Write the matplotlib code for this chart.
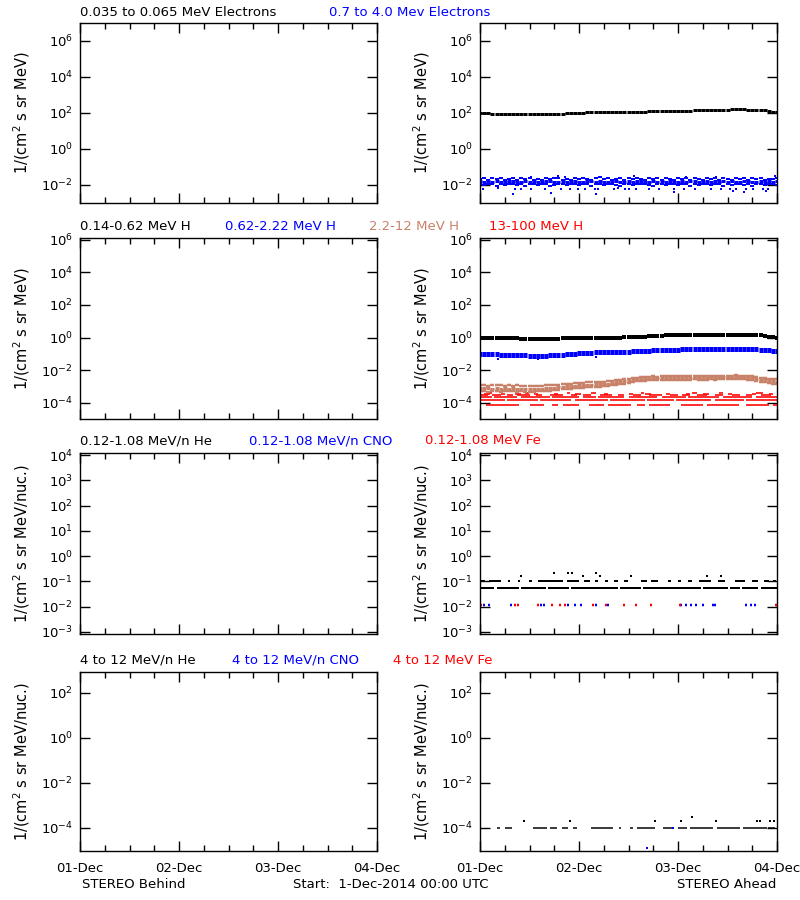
#!/usr/bin/env python3
"""STEREO HET/LET/SEPT overview: Behind (empty) vs Ahead, 1-4 Dec 2014."""

import numpy as np
import matplotlib
matplotlib.use("Agg")
import matplotlib.pyplot as plt
from matplotlib.ticker import NullLocator, MultipleLocator, NullFormatter

BLUE = "#0000ff"
RED = "#ff0000"
BROWN = "#c8826a"

day_ticks = [0, 24, 48, 72]
day_labels = ["01-Dec", "02-Dec", "03-Dec", "04-Dec"]

# ---- row 1: electrons (Ahead), hourly values from 00 UTC 1-Dec ----
e_hi_black = [
    98, 97, 95, 93, 90, 88, 87, 86, 86, 85, 84, 85,
    84, 83, 84, 85, 84, 83, 85, 86, 88, 95, 100, 103,
    105, 106, 107, 108, 108, 110, 109, 111, 112, 113, 114, 115,
    117, 118, 119, 120, 121, 122, 124, 125, 126, 128, 129, 131,
    133, 134, 136, 137, 139, 141, 143, 146, 148, 150, 152, 154,
    155, 157, 158, 158, 157, 155, 153, 150, 147, 140, 130, 120,
    112]
e_lo_up = [
    0.022, 0.025, 0.020, 0.023, 0.021, 0.026, 0.019, 0.022, 0.024, 0.020, 0.023, 0.021,
    0.025, 0.020, 0.022, 0.019, 0.024, 0.021, 0.023, 0.026, 0.020, 0.022, 0.019, 0.024,
    0.021, 0.025, 0.022, 0.020, 0.023, 0.027, 0.021, 0.024, 0.020, 0.022, 0.025, 0.019,
    0.023, 0.021, 0.026, 0.022, 0.020, 0.024, 0.021, 0.023, 0.019, 0.025, 0.022, 0.020,
    0.024, 0.021, 0.023, 0.020, 0.026, 0.022, 0.019, 0.024, 0.021, 0.025, 0.020, 0.023,
    0.022, 0.019, 0.024, 0.021, 0.026, 0.020, 0.023, 0.022, 0.025, 0.019, 0.022, 0.021,
    0.024]
e_lo_mid = [
    0.016, 0.015, 0.017, 0.014, 0.016, 0.015, 0.014, 0.016, 0.017, 0.015, 0.014, 0.016,
    0.015, 0.016, 0.014, 0.015, 0.017, 0.016, 0.015, 0.014, 0.016, 0.015, 0.017, 0.016,
    0.015, 0.014, 0.016, 0.017, 0.015, 0.016, 0.014, 0.015, 0.016, 0.017, 0.015, 0.014,
    0.016, 0.015, 0.017, 0.016, 0.014, 0.015, 0.016, 0.015, 0.017, 0.014, 0.016, 0.015,
    0.014, 0.016, 0.015, 0.017, 0.016, 0.015, 0.014, 0.016, 0.015, 0.017, 0.014, 0.016,
    0.015, 0.016, 0.014, 0.015, 0.017, 0.016, 0.015, 0.014, 0.016, 0.015, 0.016, 0.014,
    0.016]
e_lo_dn = [
    0.011, 0.010, 0.012, 0.011, 0.009, 0.012, 0.010, 0.011, 0.012, 0.010, 0.011, 0.009,
    0.012, 0.011, 0.010, 0.012, 0.011, 0.009, 0.010, 0.012, 0.011, 0.010, 0.012, 0.011,
    0.010, 0.012, 0.011, 0.009, 0.011, 0.012, 0.010, 0.011, 0.012, 0.010, 0.009, 0.011,
    0.012, 0.010, 0.011, 0.012, 0.011, 0.010, 0.009, 0.012, 0.011, 0.010, 0.012, 0.011,
    0.010, 0.011, 0.012, 0.009, 0.011, 0.010, 0.012, 0.011, 0.010, 0.012, 0.011, 0.009,
    0.012, 0.010, 0.011, 0.012, 0.010, 0.011, 0.009, 0.012, 0.011, 0.010, 0.012, 0.011,
    0.010]
e_lo_out_hr = [0.7, 4.4, 8.4, 10, 12.4, 15.7, 19.7, 21.7, 23.8, 25.4, 27.8, 28.6, 32.6, 33.5, 35.1,
               8, 17.3, 28.2, 12.4, 18.9, 20.5,
               36.2, 37.8, 41, 43.5, 47.1, 49.5, 52, 56, 58.4, 60.5, 62, 64.5, 66.1, 68.5, 69.8,
               47.1, 61.3, 64.1, 69.3, 37.4, 50, 57.2, 71.4]
e_lo_out_val = [0.006, 0.0065, 0.0058, 0.006, 0.0062, 0.0057, 0.006, 0.0063, 0.0059, 0.006,
                0.0061, 0.0058, 0.006, 0.0064, 0.0059,
                0.0032, 0.0034, 0.0033, 0.029, 0.030, 0.028,
                0.006, 0.0062, 0.0058, 0.006, 0.0061, 0.0059, 0.0063, 0.006, 0.0058, 0.0062,
                0.006, 0.0057, 0.0061, 0.006, 0.0059,
                0.004, 0.0045, 0.0042, 0.0044, 0.030, 0.029, 0.028, 0.031]

# ---- row 2: protons (Ahead), hourly ----
h_black = [
    1.00, 0.99, 0.97, 0.96, 0.94, 0.93, 0.92, 0.90, 0.89, 0.88, 0.87, 0.86,
    0.85, 0.84, 0.84, 0.83, 0.84, 0.85, 0.86, 0.87, 0.88, 0.89, 0.90, 0.92,
    0.93, 0.94, 0.95, 0.96, 0.97, 0.97, 0.98, 0.99, 1.00, 1.00, 1.01, 1.02,
    1.04, 1.06, 1.08, 1.10, 1.14, 1.20, 1.26, 1.31, 1.34, 1.36, 1.37, 1.38,
    1.39, 1.40, 1.40, 1.41, 1.42, 1.42, 1.43, 1.43, 1.44, 1.45, 1.45, 1.46,
    1.46, 1.47, 1.47, 1.48, 1.48, 1.47, 1.45, 1.42, 1.36, 1.25, 1.12, 1.04,
    1.00]
h_blue = [
    0.100, 0.098, 0.096, 0.094, 0.092, 0.090, 0.088, 0.086, 0.084, 0.082, 0.081, 0.080,
    0.079, 0.078, 0.077, 0.078, 0.079, 0.080, 0.082, 0.085, 0.090, 0.095, 0.100, 0.105,
    0.110, 0.114, 0.118, 0.121, 0.124, 0.126, 0.128, 0.130, 0.132, 0.133, 0.135, 0.137,
    0.139, 0.141, 0.143, 0.146, 0.150, 0.156, 0.162, 0.168, 0.173, 0.177, 0.180, 0.183,
    0.185, 0.187, 0.189, 0.191, 0.193, 0.195, 0.197, 0.199, 0.201, 0.203, 0.205, 0.207,
    0.209, 0.211, 0.212, 0.213, 0.212, 0.210, 0.205, 0.195, 0.180, 0.170, 0.162, 0.157,
    0.153]
h_blue_out_hr = [4.4, 14.0, 28.0]
h_blue_out_val = [0.051, 0.050, 0.065]
h_brown_up = [
    1.2e-3, 1.3e-3, 1.1e-3, 1.25e-3, 1.15e-3, 1.3e-3, 1.1e-3, 1.2e-3, 1.05e-3, 1.15e-3, 1.1e-3, 1.0e-3,
    1.05e-3, 1.1e-3, 1.0e-3, 1.1e-3, 1.15e-3, 1.2e-3, 1.25e-3, 1.3e-3, 1.4e-3, 1.45e-3, 1.5e-3, 1.6e-3,
    1.65e-3, 1.7e-3, 1.75e-3, 1.8e-3, 1.9e-3, 1.95e-3, 2.0e-3, 2.1e-3, 2.2e-3, 2.4e-3, 2.6e-3, 2.8e-3,
    3.0e-3, 3.2e-3, 3.5e-3, 3.7e-3, 3.9e-3, 4.0e-3, 4.1e-3, 4.0e-3, 4.2e-3, 4.1e-3, 4.2e-3, 4.3e-3,
    4.1e-3, 4.3e-3, 4.2e-3, 4.4e-3, 4.3e-3, 4.2e-3, 4.4e-3, 4.3e-3, 4.5e-3, 4.3e-3, 4.4e-3, 4.6e-3,
    4.4e-3, 4.6e-3, 4.7e-3, 4.5e-3, 4.4e-3, 4.3e-3, 4.1e-3, 3.9e-3, 3.5e-3, 3.2e-3, 2.9e-3, 2.8e-3,
    2.7e-3]
h_brown_mid = [
    8.0e-4, 7.5e-4, 8.5e-4, 7.0e-4, 8.0e-4, 7.2e-4, 7.8e-4, 7.0e-4, 7.5e-4, 6.8e-4, 7.2e-4, 6.5e-4,
    7.0e-4, 6.5e-4, 6.8e-4, 7.2e-4, 7.5e-4, 8.0e-4, 8.5e-4, 9.0e-4, 9.5e-4, 1.0e-3, 1.05e-3, 1.1e-3,
    1.15e-3, 1.2e-3, 1.25e-3, 1.3e-3, 1.35e-3, 1.4e-3, 1.45e-3, 1.5e-3, 1.6e-3, 1.75e-3, 1.9e-3, 2.1e-3,
    2.3e-3, 2.5e-3, 2.7e-3, 2.9e-3, 3.0e-3, 3.1e-3, 3.2e-3, 3.2e-3, 3.3e-3, 3.3e-3, 3.3e-3, 3.4e-3,
    3.3e-3, 3.4e-3, 3.3e-3, 3.4e-3, 3.5e-3, 3.4e-3, 3.3e-3, 3.4e-3, 3.5e-3, 3.4e-3, 3.5e-3, 3.6e-3,
    3.5e-3, 3.6e-3, 3.7e-3, 3.6e-3, 3.5e-3, 3.4e-3, 3.2e-3, 3.0e-3, 2.7e-3, 2.4e-3, 2.2e-3, 2.1e-3,
    2.0e-3]
h_brown_dn = [
    5.0e-4, 5.5e-4, 4.8e-4, 5.2e-4, 5.0e-4, 4.6e-4, 5.3e-4, 4.9e-4, 5.1e-4, 4.7e-4, 5.0e-4, 4.5e-4,
    4.8e-4, 4.6e-4, 4.9e-4, 5.0e-4, 5.3e-4, 5.5e-4, 5.8e-4, 6.2e-4, 6.5e-4, 7.0e-4, 7.3e-4, 7.8e-4,
    8.0e-4, 8.5e-4, 8.8e-4, 9.0e-4, 9.5e-4, 9.8e-4, 1.0e-3, 1.05e-3, 1.15e-3, 1.25e-3, 1.35e-3, 1.5e-3,
    1.7e-3, 1.9e-3, 2.1e-3, 2.2e-3, 2.3e-3, 2.4e-3, 2.5e-3, 2.5e-3, 2.6e-3, 2.5e-3, 2.6e-3, 2.6e-3,
    2.5e-3, 2.6e-3, 2.5e-3, 2.6e-3, 2.7e-3, 2.6e-3, 2.5e-3, 2.6e-3, 2.7e-3, 2.6e-3, 2.7e-3, 2.8e-3,
    2.7e-3, 2.8e-3, 2.9e-3, 2.8e-3, 2.7e-3, 2.6e-3, 2.5e-3, 2.3e-3, 2.0e-3, 1.8e-3, 1.6e-3, 1.5e-3,
    1.5e-3]
# 13-100 MeV H is count-limited: flux levels and the hour spans each level shows up
h_red_levels = [7e-5, 1.4e-4, 2.1e-4, 2.8e-4, 3.5e-4, 4.2e-4]
h_red_spans = [
    [(1.5, 9.5), (12, 15.5), (17.5, 19), (20, 24), (26.5, 30), (31, 36.5), (38, 40),
     (41, 46), (48.7, 54), (55, 62.9), (64.5, 70), (71, 72)],
    [(0, 6), (6.5, 14), (14.5, 22), (23, 31), (31.5, 40), (40.5, 47), (47.5, 56),
     (57, 64), (64.5, 72)],
    [(0, 3), (3.5, 9), (10, 17), (17.5, 24), (25, 28), (28.5, 35), (36, 43), (44, 50),
     (50.5, 58), (59, 66), (67, 72)],
    [(0, 2), (3, 5), (6.5, 8), (9, 12), (13.5, 15), (17, 20), (22, 23.5), (25, 27),
     (29, 32), (33.5, 35), (37, 39), (41, 44), (46, 48), (49, 51), (52.5, 55), (57, 59),
     (61, 63), (64.5, 66), (68, 70.5)],
    [(1, 2.5), (5, 6), (8.5, 10), (13, 14), (18, 19), (23, 24.5), (30, 31), (36, 37),
     (40, 41.5), (45, 46), (50, 51), (54, 55.5), (60, 61), (66, 67), (70, 71)],
    [(2, 3), (11, 11.8), (21, 21.8), (27, 28), (39, 39.7), (51.5, 52.5), (58, 58.8),
     (67, 68.5)],
]

# ---- row 3: 0.12-1.08 MeV/n heavy ions (Ahead) ----
he_levels = [0.054, 0.108]
he_spans = [
    [(0, 3.5), (4, 9.5), (10, 16), (16.5, 21.5), (22, 33.5), (34, 39), (39.5, 53.5),
     (54, 60), (60.5, 63), (63.5, 67.5), (68, 72)],
    [(0.3, 1.3), (2.3, 5), (6.8, 7.3), (9.3, 9.8), (11.8, 12.6), (14, 20), (21, 24),
     (25.3, 26.6), (27.8, 28.5), (30.2, 31), (32.6, 33.4), (35, 35.8), (39, 40.6),
     (41.5, 43.2), (45.6, 46.4), (48, 48.8), (50.5, 51.3), (53, 56), (57.7, 59.3),
     (61.8, 64.2), (66, 67.5), (68.8, 70), (71, 71.8)],
]
he_dot_hr = [10, 25, 29, 36.7, 55, 58.5, 18, 21.3, 22.2, 28]
he_dot_val = [0.16, 0.16, 0.16, 0.16, 0.16, 0.16, 0.215, 0.215, 0.215, 0.215]
cno_lo_hr = [0.9, 2.3, 7.6, 14.9, 15.4, 21.3, 23, 24.6, 28.2, 31, 48.8, 50, 51.2,
             52.4, 54, 56.5, 57, 64.6, 65.6, 66.6]
cno_lo_val = [0.0115] * 20
fe_lo_hr = [0.3, 8.6, 9.2, 14.1, 17.5, 19.5, 20.7, 27.4, 30.6, 34.9, 37.9, 41.5, 48.4, 71.8]
fe_lo_val = [0.0115] * 14

# ---- row 4: 4-12 MeV/n heavy ions (Ahead) ----
he4_level = 1e-4
he4_spans = [(4, 4.8), (6, 7.7), (12.9, 16.2), (17, 18.6), (19.8, 21.4), (22.6, 23.4),
             (27, 32.3), (33.8, 34.3), (36.4, 37.2), (38, 42.4), (44.4, 46.9), (48, 50.1),
             (50.9, 56.6), (57.4, 63), (63.8, 69.5), (69.9, 71.5)]
he4_dot_hr = [10.7, 21.7, 42.4, 48.7, 57.1, 67.2, 67.8, 70.2, 71.3, 51.5]
he4_dot_val = [2e-4, 2e-4, 2e-4, 2e-4, 2e-4, 2e-4, 2e-4, 2e-4, 2e-4, 3e-4]
cno4_hr = [40.4, 46.9]
cno4_val = [1.25e-5, 1e-4]


def px(n):
    return n * 0.72  # pixels -> points at 100 dpi


def dots(ax, t, v, color, w=4.2, h=3):
    ax.plot(t, v, ls="none", marker="_", ms=px(w), mew=px(h), color=color)


def hourly(ax, v, color, w=4.2, h=3):
    dots(ax, np.arange(len(v)), v, color, w, h)


def spans(ax, level, segs, color, lw=2):
    for a, b in segs:
        ax.hlines(level, a, b, colors=color, lw=px(lw))


def style_axis(ax, ylim, yticks, bottom_row, ylabel):
    ax.set_yscale("log")
    ax.set_xlim(0, 72)
    ax.set_ylim(*ylim)
    ax.set_yticks(yticks)
    ax.yaxis.set_minor_locator(NullLocator())
    ax.xaxis.set_major_locator(MultipleLocator(24))
    ax.xaxis.set_minor_locator(MultipleLocator(6))
    if bottom_row:
        ax.set_xticks(day_ticks)
        ax.set_xticklabels(day_labels)
    else:
        ax.xaxis.set_major_formatter(NullFormatter())
    ax.tick_params(which="both", direction="in", top=True, right=True, width=1,
                   labelsize=9.5, colors="black")
    ax.tick_params(which="major", length=7, pad=5)
    ax.tick_params(axis="x", which="major", pad=8)
    ax.tick_params(which="minor", length=4)
    for s in ax.spines.values():
        s.set_linewidth(1)
    ax.set_ylabel(ylabel, fontsize=10.5)
    ax.yaxis.set_label_coords(-0.16, 0.5)


plt.rcParams["font.family"] = ["DejaVu Sans"]
fig = plt.figure(figsize=(8, 9), dpi=100)

col_left = [80 / 800, 480 / 800]
col_w = 297 / 800
rows = [(23, 203), (238, 419), (453, 634), (672, 851)]
ylims = [(1e-3, 1e7), (1e-5, 1.3e6), (8.3e-4, 1.2e4), (9.5e-6, 8.5e2)]
yticks = [[1e-2, 1, 1e2, 1e4, 1e6],
          [1e-4, 1e-2, 1, 1e2, 1e4, 1e6],
          [1e-3, 1e-2, 1e-1, 1, 1e1, 1e2, 1e3, 1e4],
          [1e-4, 1e-2, 1, 1e2]]
ylabels = ["1/(cm$^2$ s sr MeV)"] * 2 + ["1/(cm$^2$ s sr MeV/nuc.)"] * 2

axes = []
for r, (top, bot) in enumerate(rows):
    row_axes = []
    for c in range(2):
        ax = fig.add_axes([col_left[c], 1 - bot / 900, col_w, (bot - top) / 900])
        style_axis(ax, ylims[r], yticks[r], r == 3, ylabels[r])
        row_axes.append(ax)
    axes.append(row_axes)

# row 1 right
ax = axes[0][1]
hourly(ax, e_lo_up, BLUE, h=2)
hourly(ax, e_lo_mid, BLUE, h=3)
hourly(ax, e_lo_dn, BLUE, h=2)
dots(ax, e_lo_out_hr, e_lo_out_val, BLUE, w=2, h=2)
hourly(ax, e_hi_black, "black", h=3)

# row 2 right
ax = axes[1][1]
for lvl, segs in zip(h_red_levels, h_red_spans):
    spans(ax, lvl, segs, RED, lw=1.6)
hourly(ax, h_brown_up, BROWN, h=2.5)
hourly(ax, h_brown_mid, BROWN, h=3)
hourly(ax, h_brown_dn, BROWN, h=2.5)
hourly(ax, h_blue, BLUE, h=5)
dots(ax, h_blue_out_hr, h_blue_out_val, BLUE, w=2, h=2)
hourly(ax, h_black, "black", h=4)

# row 3 right
ax = axes[2][1]
for lvl, segs in zip(he_levels, he_spans):
    spans(ax, lvl, segs, "black", lw=2)
dots(ax, he_dot_hr, he_dot_val, "black", w=2, h=2)
dots(ax, cno_lo_hr, cno_lo_val, BLUE, w=2.5, h=2.5)
dots(ax, fe_lo_hr, fe_lo_val, RED, w=2.5, h=2.5)

# row 4 right
ax = axes[3][1]
spans(ax, he4_level, he4_spans, "black", lw=1.5)
dots(ax, he4_dot_hr, he4_dot_val, "black", w=2, h=2)
dots(ax, cno4_hr, cno4_val, BLUE, w=2, h=2)

# panel titles (coloured legend strings above each row)
titles = [
    [("0.035 to 0.065 MeV Electrons", "black", 80), ("0.7 to 4.0 Mev Electrons", BLUE, 329)],
    [("0.14-0.62 MeV H", "black", 80), ("0.62-2.22 MeV H", BLUE, 225),
     ("2.2-12 MeV H", BROWN, 369), ("13-100 MeV H", RED, 489)],
    [("0.12-1.08 MeV/n He", "black", 80), ("0.12-1.08 MeV/n CNO", BLUE, 249),
     ("0.12-1.08 MeV Fe", RED, 425)],
    [("4 to 12 MeV/n He", "black", 80), ("4 to 12 MeV/n CNO", BLUE, 232),
     ("4 to 12 MeV Fe", RED, 393)],
]
title_y = [13, 227, 441, 660]
for ty, row in zip(title_y, titles):
    for txt, col, tx in row:
        fig.text(tx / 800, 1 - ty / 900, txt, color=col, fontsize=9.5,
                 ha="left", va="center")

fig.text(82 / 800, 1 - 884 / 900, "STEREO Behind", fontsize=9.5, ha="left", va="center")
fig.text(293 / 800, 1 - 884 / 900, "Start:  1-Dec-2014 00:00 UTC", fontsize=9.5,
         ha="left", va="center")
fig.text(776 / 800, 1 - 884 / 900, "STEREO Ahead", fontsize=9.5, ha="right", va="center")

fig.savefig("out.png", dpi=100, facecolor="white")
